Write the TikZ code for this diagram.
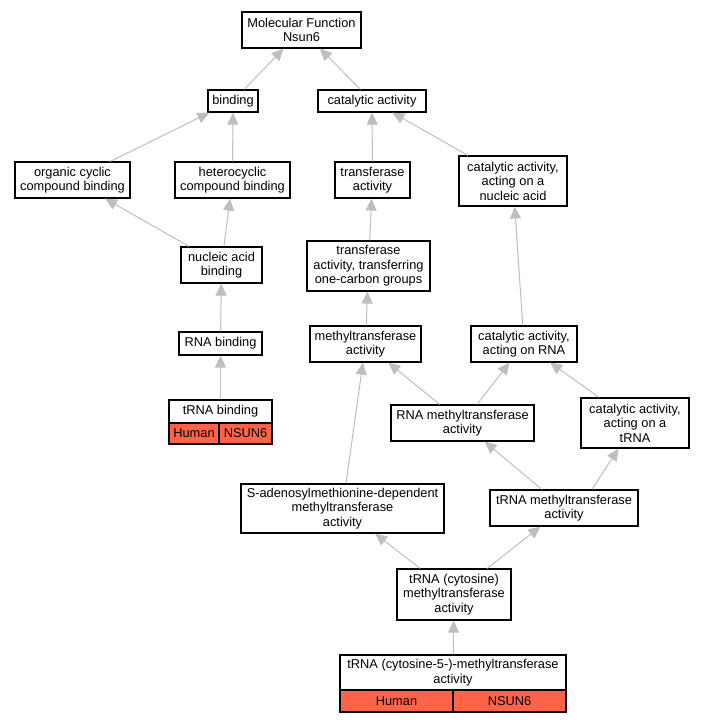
\documentclass[tikz,border=0pt]{standalone}
\usepackage{fontspec}
\setmainfont{Liberation Sans}
\usetikzlibrary{arrows.meta}
\definecolor{isagray}{RGB}{190,190,190}
\definecolor{hitred}{RGB}{255,99,71}

\begin{document}
\begin{tikzpicture}[x=1pt,y=-1pt,
  term/.style={rectangle,draw,line width=1.2pt,inner sep=0pt,align=center,fill=white,font=\fontsize{12.8}{14.5}\selectfont},
  gene/.style={term,fill=hitred},
  isa/.style={draw=isagray,line width=1pt,-{Triangle[length=12pt,width=11pt]},isagray}]
\useasboundingbox (0,0) rectangle (704,723);
% terms
\node (mf) [term, minimum width=119pt, minimum height=36pt] at (301.5,30) {Molecular Function\\Nsun6};
\node (bind) [term, minimum width=50pt, minimum height=22pt] at (233,101) {binding};
\node (cat) [term, minimum width=108pt, minimum height=22pt] at (372,101) {catalytic activity};
\node (ocb) [term, minimum width=115pt, minimum height=36pt] at (72.5,180) {organic cyclic\\compound binding};
\node (hcb) [term, minimum width=115pt, minimum height=36pt] at (232.5,180) {heterocyclic\\compound binding};
\node (trans) [term, minimum width=75pt, minimum height=36pt] at (372.5,180) {transferase\\activity};
\node (catna) [term, minimum width=108pt, minimum height=50pt] at (513,181) {catalytic activity,\\acting on a\\nucleic acid};
\node (nab) [term, minimum width=81pt, minimum height=36pt] at (221.5,265) {nucleic acid\\binding};
\node (onec) [term, minimum width=123pt, minimum height=50pt] at (368.5,266) {transferase\\activity, transferring\\one-carbon groups};
\node (rnab) [term, minimum width=83pt, minimum height=23pt] at (220.5,343.5) {RNA binding};
\node (mt) [term, minimum width=111pt, minimum height=36pt] at (365.5,344) {methyltransferase\\activity};
\node (catrna) [term, minimum width=106pt, minimum height=36pt] at (524,344) {catalytic activity,\\acting on RNA};
\node (trnab) [term, minimum width=103pt, minimum height=23pt] at (220.5,411.5) {tRNA binding};
\node (hum1) [gene, minimum width=50pt, minimum height=21pt] at (194,433.5) {Human};
\node (nsun1) [gene, minimum width=53pt, minimum height=21pt] at (245.5,433.5) {NSUN6};
\node (rnamt) [term, minimum width=143pt, minimum height=36pt] at (462.5,423) {RNA methyltransferase\\activity};
\node (cattrna) [term, minimum width=108pt, minimum height=50pt] at (635,423) {catalytic activity,\\acting on a\\tRNA};
\node (sam) [term, minimum width=203pt, minimum height=49pt] at (342.5,508.5) {S-adenosylmethionine-dependent\\methyltransferase\\activity};
\node (trnamt) [term, minimum width=148pt, minimum height=36pt] at (564,508) {tRNA methyltransferase\\activity};
\node (cyt) [term, minimum width=114pt, minimum height=51pt] at (454,594.5) {tRNA (cytosine)\\methyltransferase\\activity};
\node (cyt5) [term, minimum width=226pt, minimum height=35pt] at (453,672.5) {tRNA (cytosine-5-)-methyltransferase\\activity};
\node (hum2) [gene, minimum width=113pt, minimum height=22pt] at (396.5,701) {Human};
\node (nsun2) [gene, minimum width=113pt, minimum height=22pt] at (509.5,701) {NSUN6};
% is_a links
\begin{scope}
  \draw [isa] (bind) -- (mf);
  \draw [isa] (cat) -- (mf);
  \draw [isa] (ocb) -- (bind);
  \draw [isa] (hcb) -- (bind);
  \draw [isa] (trans) -- (cat);
  \draw [isa] (catna) -- (cat);
  \draw [isa] (nab) -- (ocb);
  \draw [isa] (nab) -- (hcb);
  \draw [isa] (onec) -- (trans);
  \draw [isa] (rnab) -- (nab);
  \draw [isa] (mt) -- (onec);
  \draw [isa] (catrna) -- (catna);
  \draw [isa] (trnab) -- (rnab);
  \draw [isa] (rnamt) -- (mt);
  \draw [isa] (rnamt) -- (catrna);
  \draw [isa] (cattrna) -- (catrna);
  \draw [isa] (sam) -- (mt);
  \draw [isa] (trnamt) -- (rnamt);
  \draw [isa] ([xshift=28pt]trnamt.north) -- (cattrna);
  \draw [isa] (cyt) -- (sam);
  \draw [isa] (cyt) -- (trnamt);
  \draw [isa] (cyt5) -- (cyt);
\end{scope}
\end{tikzpicture}
\end{document}
